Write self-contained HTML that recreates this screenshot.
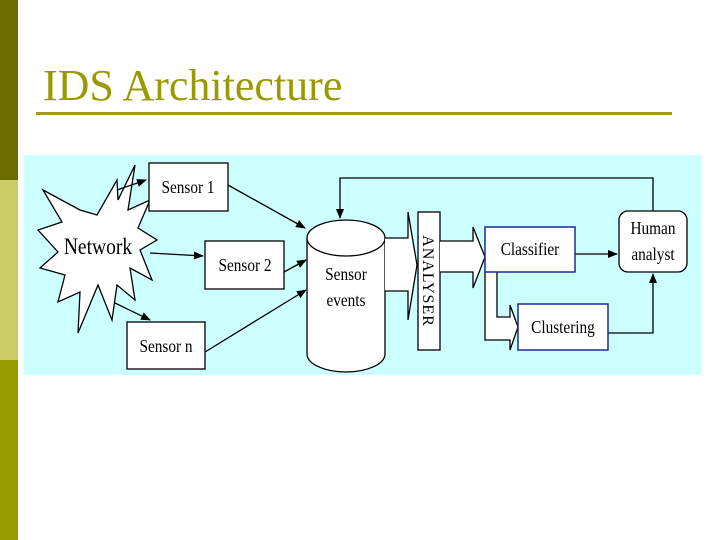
<!DOCTYPE html>
<html><head><meta charset="utf-8"><style>
html,body{margin:0;padding:0;width:720px;height:540px;overflow:hidden;background:#fff}
</style></head><body>
<svg width="720" height="540" viewBox="0 0 720 540" xmlns="http://www.w3.org/2000/svg" font-family="Liberation Serif, serif">
<rect x="0" y="0" width="18" height="180" fill="#6b6b00"/>
<rect x="0" y="180" width="18" height="180" fill="#cccc66"/>
<rect x="0" y="360" width="18" height="180" fill="#999900"/>
<text x="43" y="100" font-size="44" fill="#999900">IDS Architecture</text>
<rect x="36" y="112" width="636" height="3" fill="#a09a20"/>
<rect x="24" y="155" width="678" height="220" fill="#ccffff"/>
<defs><marker id="a" markerWidth="10" markerHeight="8" refX="9" refY="4" orient="auto" markerUnits="userSpaceOnUse"><path d="M0,0L10,4L0,8z" fill="#000"/></marker></defs>
<g stroke="#000" stroke-width="1.3" fill="none">
<polygon fill="#fff" points="97,215 117,180 118,200 135,165 128,210 150,200 138,228 157,240 140,250 152,280 130,268 135,300 117,285 112,320 98,285 78,333 80,292 58,302 65,275 40,268 58,252 38,230 62,222 43,190 80,210" />
<path d="M117,190 L146,180" marker-end="url(#a)"/>
<path d="M150,253 L203,256" marker-end="url(#a)"/>
<path d="M115,303 L150,320" marker-end="url(#a)"/>
<path d="M228,185 L305,228" marker-end="url(#a)"/>
<path d="M284,272 L306,260" marker-end="url(#a)"/>
<path d="M205,352 L306,290" marker-end="url(#a)"/>
<path d="M653,211 L653,178 L340,178 L340,218" marker-end="url(#a)"/>
<path d="M575,254 L617,254" marker-end="url(#a)"/>
<path d="M608,333 L653,333 L653,274" marker-end="url(#a)"/>
</g>
<g stroke="#000" stroke-width="1.3" fill="#fff">
<rect x="149" y="163" width="79" height="48"/>
<rect x="205" y="241" width="79" height="48"/>
<rect x="127" y="322" width="78" height="47"/>
<path d="M307,238 L307,354 A39,18 0 0 0 385,354 L385,238"/>
<ellipse cx="346" cy="238" rx="39" ry="18"/>
<polygon points="385,238 408,238 408,212 417,265 408,320 408,291 385,291" stroke="none"/>
<path d="M385,238 L408,238 L408,212 L417,265 L408,320 L408,291 L385,291" fill="none"/>
<rect x="418" y="212" width="22" height="138"/>
<path d="M440,241 L473,241 L473,227 L485,257 L473,288 L473,272 L440,272"/>
<path d="M485,272 L485,340 L510,340 L510,350 L518,327 L510,305 L510,317 L497,317 L497,272"/>
<rect x="619" y="211" width="68" height="61" rx="9"/>
</g>
<rect x="485" y="227" width="90" height="45" fill="#fff" stroke="#1a2a9a" stroke-width="1.5"/>
<rect x="518" y="304" width="90" height="46" fill="#fff" stroke="#1a2a9a" stroke-width="1.5"/>
<g font-size="18" fill="#000" text-anchor="middle">
<text x="188" y="193" transform="translate(188 0) scale(0.85 1) translate(-188 0)">Sensor 1</text>
<text x="245" y="271" transform="translate(245 0) scale(0.85 1) translate(-245 0)">Sensor 2</text>
<text x="166" y="352" transform="translate(166 0) scale(0.85 1) translate(-166 0)">Sensor n</text>
<text x="98" y="254" font-size="23" transform="translate(98 0) scale(0.85 1) translate(-98 0)">Network</text>
<text x="346" y="280" transform="translate(346 0) scale(0.85 1) translate(-346 0)">Sensor</text>
<text x="346" y="306" transform="translate(346 0) scale(0.85 1) translate(-346 0)">events</text>
<text x="530" y="255" transform="translate(530 0) scale(0.85 1) translate(-530 0)">Classifier</text>
<text x="563" y="333" transform="translate(563 0) scale(0.85 1) translate(-563 0)">Clustering</text>
<text x="653" y="234" transform="translate(653 0) scale(0.85 1) translate(-653 0)">Human</text>
<text x="653" y="260" transform="translate(653 0) scale(0.85 1) translate(-653 0)">analyst</text>
<text x="0" y="0" font-size="16" transform="translate(423 281) rotate(90)" text-anchor="middle" letter-spacing="1">ANALYSER</text>
</g>
</svg>
</body></html>
